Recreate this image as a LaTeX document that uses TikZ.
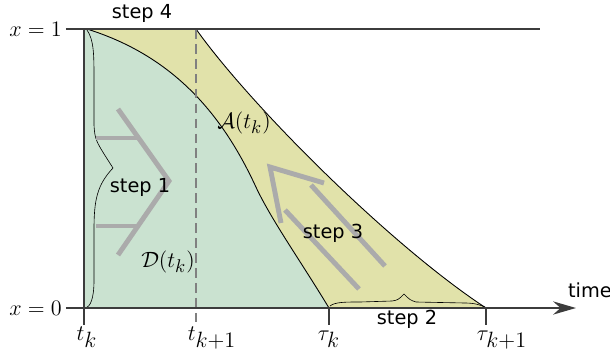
\documentclass[tikz,border=0pt]{standalone}
\usepackage{fontspec}
\setsansfont{DejaVu Sans}
\DeclareMathSizes{12}{12}{10}{8}
\definecolor{dgreen}{RGB}{202,226,208}
\definecolor{dyellow}{RGB}{225,226,170}
\definecolor{axisgray}{RGB}{60,60,60}
\usetikzlibrary{arrows.meta}
% lowered full-size index, as in the tick labels
\newcommand{\dn}[1]{\raisebox{-2.5pt}{$#1$}}

\begin{document}
\begin{tikzpicture}[
  x=0.02cm, y=-0.02cm,
  axisline/.style={draw=axisgray, line width=1.1pt},
  region/.style={draw=black, line width=0.5pt},
  curly/.style={draw=black, line width=0.35pt},
  flow/.style={draw=black!33, line width=2.8pt},
  mlabel/.style={font=\large, inner sep=1pt, scale=1.05},
  steptext/.style={font=\sffamily\fontsize{11}{13}\selectfont, inner sep=1pt}
]
  \useasboundingbox (0,0) rectangle (610,356);

  % Define X and Y coordinates of the grid
  \def\tkX{84}
  \def\tkkX{196}
  \def\taukX{329}
  \def\taukkX{486}
  \def\topY{29}
  \def\botY{308}

  % Region D(t_k)
  \fill[dgreen] (87,\topY) .. controls (170,55) and (220,110) .. (255,185)
    .. controls (270,218) and (300,260) .. (\taukX,\botY) -- (\tkX,\botY) -- (\tkX,\topY) -- cycle;

  % Region A(t_k)
  \fill[dyellow] (87,\topY) -- (\tkkX,\topY) .. controls (250,105) and (390,245) .. (\taukkX,\botY)
    -- (\taukX,\botY) .. controls (300,260) and (270,218) .. (255,185)
    .. controls (220,110) and (170,55) .. (87,\topY) -- cycle;

  % Region borders
  \draw[region] (87,\topY) .. controls (170,55) and (220,110) .. (255,185)
    .. controls (270,218) and (300,260) .. (\taukX,\botY);
  \draw[region] (\tkkX,\topY) .. controls (250,105) and (390,245) .. (\taukkX,\botY);

  % Dashed line at t_{k+1}
  \draw[gray, line width=0.8pt, dash pattern=on 5.5pt off 3pt] (\tkkX,\topY) -- (\tkkX,325);

  % Braces for step 1 and step 2
  \draw[curly] (87,30) .. controls (94,40) and (94,55) .. (94,80) -- (94,125)
    .. controls (95,140) .. (113,168) .. controls (97,185) and (94,200) .. (94,230)
    -- (94,280) .. controls (94,300) and (90,306) .. (86,308);
  \draw[curly] (330,306) .. controls (335,302) and (345,302) .. (360,302) -- (392,301)
    .. controls (398,300) .. (404,294) .. controls (410,300) .. (416,302) -- (465,303)
    .. controls (475,303) and (480,305) .. (485,307);

  % Step 1 arrow
  \draw[flow] (118,109) -- (169,181) -- (118,255);
  \draw[flow] (96,138) -- (138,138);
  \draw[flow] (96,226) -- (138,226);

  % Step 3 arrow
  \draw[flow] (324,183) -- (270,167) -- (281,223);
  \draw[flow] (285,210) -- (359,289);
  \draw[flow] (311,185) -- (385,266);

  % Axes and ticks
  \coordinate (top0) at (66,\topY);
  \coordinate (top1) at (540,\topY);
  \coordinate (bot0) at (66,\botY);
  \coordinate (bot1) at (576,\botY);
  \draw[axisline] (top0) -- (top1);
  \draw[axisline, -{Stealth[length=13pt, width=7.5pt]}] (bot0) -- (bot1);
  \draw[axisline] (\tkX,\topY) -- (\tkX,325);
  \draw[axisline, line width=0.8pt] (\taukX,\botY) -- (\taukX,325);
  \draw[axisline, line width=0.8pt] (\taukkX,\botY) -- (\taukkX,325);

  % Labels
  \node[mlabel, anchor=east] (xone)  at (64,\topY) {$x=1$};
  \node[mlabel, anchor=east] (xzero) at (64,\botY) {$x=0$};
  \node[mlabel, anchor=base] (tk)    at (87,340)  {$t_{\dn{k}}$};
  \node[mlabel, anchor=base] (tkk)   at (212,340) {$t_{\dn{k\mathord{+}1}}$};
  \node[mlabel, anchor=base] (tauk)  at (329,340) {$\tau_{\dn{k}}$};
  \node[mlabel, anchor=base] (taukk) at (502,340) {$\tau_{\dn{k\mathord{+}1}}$};
  \node[mlabel] (acal) at (244,123) {$\mathcal{A}(t_k)$};
  \node[mlabel] (dcal) at (168,262) {$\mathcal{D}(t_k)$};

  \node[steptext] (s4) at (142,13)  {step 4};
  \node[steptext] (s1) at (140,187) {step 1};
  \node[steptext] (s3) at (333,233) {step 3};
  \node[steptext] (s2) at (407,319) {step 2};
  \node[steptext, anchor=west] (time) at (566,290) {time};

\end{tikzpicture}
\end{document}
